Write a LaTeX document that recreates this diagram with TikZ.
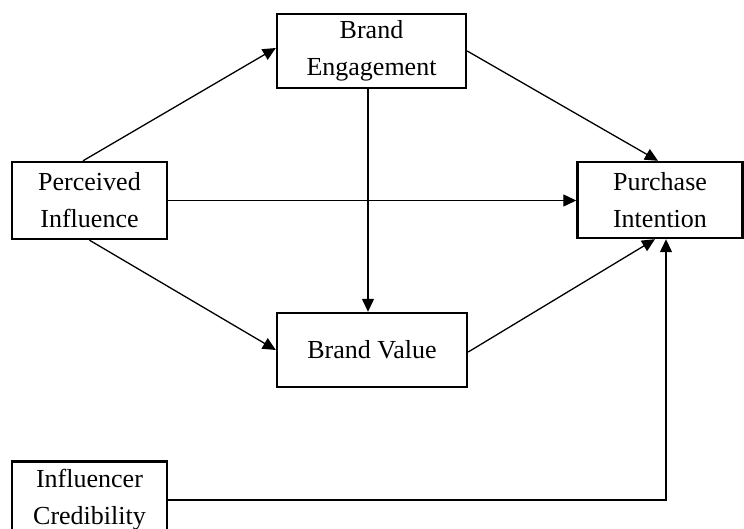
\documentclass[tikz,border=0pt]{standalone}
\usepackage{fontspec}
\setmainfont{Liberation Serif}
\usetikzlibrary{arrows.meta}
\begin{document}
\begin{tikzpicture}[x=1pt,y=-1pt,
  box/.style={draw=black,line width=2.4pt,fill=white,align=center,inner sep=0pt,
    font=\fontsize{26}{37}\selectfont},
  conn/.style={line width=1.3pt,-{Triangle[length=13pt,width=12pt]}}]
\useasboundingbox (0,0) rectangle (744,529);
\node[box,minimum width=189pt,minimum height=74pt] (be) at (371.5,51) {Brand\\Engagement};
\node[box,minimum width=155pt,minimum height=77pt] (pin) at (89.5,200.5) {Perceived\\Influence};
\node[box,minimum width=165pt,minimum height=76pt] (pi) at (660,200) {Purchase\\Intention};
\node[box,minimum width=190pt,minimum height=74pt] (bv) at (372,350) {Brand Value};
\node[box,minimum width=155pt,minimum height=77pt] (ic) at (89.5,500) {Influencer\\Credibility};
\draw[conn] ([xshift=-6.5pt]pin.north) -- ([yshift=3pt]be.west);
\draw[conn] (pin.east) -- (pin.east -| pi.west);
\draw[conn] (pin.south) -- (bv.west);
\draw[conn] (be.east) -- ([xshift=-2pt]pi.north);
\draw[conn] ([xshift=-3.5pt]be.south) -- ([xshift=-4pt]bv.north);
\draw[conn] ([yshift=-2pt]bv.east) -- ([xshift=-5pt]pi.south);
\draw[conn] (ic.east) -| ([xshift=6pt]pi.south);
\end{tikzpicture}
\end{document}
